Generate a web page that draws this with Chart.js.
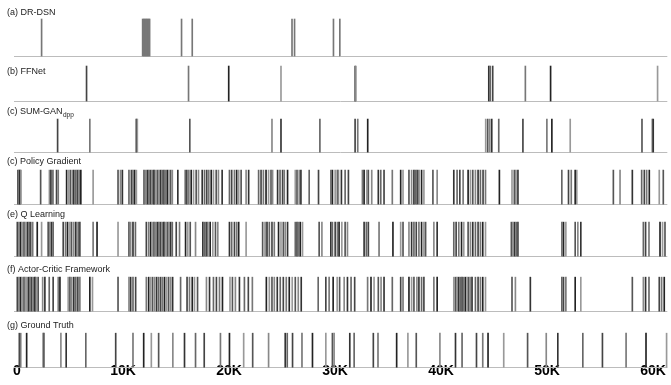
<!DOCTYPE html>
<html>
<head>
<meta charset="utf-8">
<script src="https://cdn.jsdelivr.net/npm/chart.js@4.4.0/dist/chart.umd.min.js"></script>
<style>
    html, body { margin: 0; padding: 0; background: #fff; }
    #wrap { width: 671px; height: 385px; }
</style>
</head>
<body>
<div id="wrap"><canvas id="keyframes" width="671" height="385"></canvas></div>
<script>
// Selected keyframes (frame index) per method.
var rowNames = ['(a) DR-DSN', '(b) FFNet', '(c) SUM-GAN', '(c) Policy Gradient',
    '(e) Q Learning', '(f) Actor-Critic Framework', '(g) Ground Truth'];

var drDsn = [2320, 11850, 11950, 12040, 12140, 12230, 12320, 12420, 12510, 15520, 16530,
    25940, 26180, 29850, 30450];

var ffNet = [6560, 16180, 19970, 24900, 31890, 31960, 44500, 44640, 44870, 47950, 50330, 60420];

var sumGanDpp = [3830, 6870, 11260, 11350, 16300, 24050, 24900, 28570, 31890, 32140, 33080,
    44210, 44400, 44590, 44780, 45440, 47720, 49980, 50450, 52180, 58950, 59920, 60010];

var policyGradient = [90, 190, 280, 380, 2230, 3060, 3200, 3390, 3730, 3890, 4680, 4890, 5050,
    5240, 5360, 5550, 5710, 5860, 6020, 7180, 9530, 9760, 9940, 10560, 10790, 10940, 11100,
    11260, 11980, 12140, 12300, 12450, 12610, 12770, 12920, 13080, 13240, 13390, 13550, 13710,
    13860, 14020, 14180, 14330, 14490, 14650, 15170, 15870, 16020, 16210, 16430, 16650, 16900,
    17120, 17470, 17690, 17900, 18090, 18320, 18530, 18790, 19000, 19350, 20040, 20250, 20510,
    20720, 20910, 21140, 21610, 21850, 22790, 23020, 23240, 23490, 23730, 23960, 24110, 24580,
    24810, 25050, 25210, 25520, 26250, 26410, 26620, 26780, 27560, 28440, 29600, 29750, 30010,
    30220, 30320, 30600, 30950, 31260, 32580, 32740, 32990, 33140, 33460, 34080, 34310, 34620,
    35400, 36190, 36410, 36970, 37220, 37440, 37600, 37750, 37910, 38160, 38380, 39230, 39630,
    41200, 41510, 41770, 42080, 42550, 42770, 42990, 43240, 43490, 43710, 43960, 44190, 45500,
    46690, 46910, 47060, 47250, 51390, 52020, 52280, 52650, 52800, 56250, 56880, 58040, 58920,
    59170, 59390, 59640, 60580, 60960];

var qLearning = [30, 190, 350, 500, 660, 850, 1010, 1160, 1290, 1480, 1910, 2320, 2940, 3100,
    3260, 3410, 4360, 4580, 4770, 4990, 5150, 5360, 5550, 5770, 5930, 7180, 7550, 9530, 10560,
    10720, 10940, 11170, 12200, 12420, 12610, 12770, 12920, 13080, 13240, 13390, 13550, 13710,
    13860, 14020, 14180, 14330, 14490, 14650, 15020, 15330, 15900, 16110, 16340, 16840, 17530,
    17690, 17850, 18000, 18220, 18470, 18720, 18940, 20040, 20250, 20510, 20720, 20910, 21610,
    23170, 23400, 23580, 23800, 24050, 24270, 24670, 24900, 25120, 25300, 25520, 26250, 26410,
    26560, 26720, 26930, 28500, 28760, 29600, 29750, 30010, 30220, 30380, 30640, 30950, 31170,
    32740, 32950, 33140, 34150, 35460, 36190, 36410, 36970, 37220, 37440, 37660, 37910, 38160,
    38380, 38540, 39320, 39630, 41200, 41420, 41670, 41930, 42140, 42550, 42770, 42990, 43240,
    43490, 43710, 43930, 44190, 46630, 46780, 46940, 47100, 47250, 51390, 51550, 51770, 52650,
    52900, 53180, 59080, 59290, 59610, 60650, 60890, 61120];

var actorCritic = [30, 190, 350, 500, 660, 850, 1060, 1220, 1380, 1530, 1690, 1850, 2000, 2420,
    2630, 3040, 3410, 3890, 4050, 4830, 4990, 5170, 5360, 5550, 5740, 5930, 6870, 7120, 9530,
    10560, 10720, 10940, 11190, 12200, 12420, 12610, 12790, 12980, 13170, 13360, 13550, 13730,
    13920, 14110, 14300, 14490, 14680, 15430, 16040, 16270, 16530, 16740, 17030, 17870, 18160,
    18530, 18810, 19100, 19380, 20090, 20320, 20600, 20980, 21450, 21820, 22200, 23520, 23800,
    24050, 24270, 24550, 24830, 25120, 25400, 25680, 25960, 26250, 26530, 26810, 28410, 29130,
    29440, 29820, 30200, 30430, 30860, 31170, 31510, 31850, 33070, 33390, 33680, 34080, 34340,
    34620, 35400, 36190, 36410, 36970, 37220, 37440, 37720, 37910, 38160, 38380, 39320, 39630,
    41200, 41360, 41510, 41670, 41830, 41980, 42140, 42300, 42460, 42610, 42770, 42920, 43240,
    43490, 43710, 43930, 44190, 46690, 47010, 48420, 51390, 51550, 51770, 52650, 53180, 58040,
    59080, 59290, 59610, 60580, 60800, 61050];

var groundTruth = [220, 350, 910, 2450, 2540, 4140, 4640, 6490, 9310, 10940, 11950, 12670,
    13360, 14700, 15800, 16840, 17660, 19190, 20040, 21380, 22230, 23730, 25300, 25490, 25990,
    26880, 27870, 29130, 29750, 29910, 31390, 31800, 33610, 34050, 35810, 36870, 37660, 39890,
    41360, 41980, 43340, 43930, 44430, 45910, 48160, 49920, 51010, 53370, 55220, 57450, 59330,
    61270];

var tickValues = [0, 10000, 20000, 30000, 40000, 50000, 60000];
var tickLabels = ['0', '10K', '20K', '30K', '40K', '50K', '60K'];

// layout of each strip on the reversed y scale: [line top, baseline, label centre]
var rowBands = [[19, 56, 13], [66, 101, 71], [119, 152, 111], [170, 204, 161],
    [222, 256, 214], [277, 311, 269], [333, 367, 325]];

var seriesList = [drDsn, ffNet, sumGanDpp, policyGradient, qLearning, actorCritic, groundTruth];
var shades = ['#444', '#777', '#222', '#999', '#555', '#888', '#333', '#666'];
var FONT = '"Liberation Sans", Arial, sans-serif';

var datasets = seriesList.map(function (values, r) {
    var band = rowBands[r];
    return {
        label: rowNames[r],
        data: values.map(function (v) { return { x: v, y: [band[0], band[1]] }; }),
        backgroundColor: values.map(function (v, i) { return r === 0 ? '#777' : shades[i % shades.length]; }),
        borderWidth: 0,
        barThickness: 1,
        grouped: false,
        clip: false
    };
});

// baselines under every strip + the strip titles
var stripDecor = {
    id: 'stripDecor',
    beforeDatasetsDraw: function (chart) {
        var ctx = chart.ctx, y = chart.scales.y, area = chart.chartArea;
        ctx.save();
        ctx.strokeStyle = '#bcbcbc';
        ctx.lineWidth = 1;
        rowBands.forEach(function (b) {
            var py = Math.round(y.getPixelForValue(b[1])) + 0.5;
            ctx.beginPath();
            ctx.moveTo(area.left + 4, py);
            ctx.lineTo(area.right, py);
            ctx.stroke();
        });
        ctx.fillStyle = '#222';
        ctx.textBaseline = 'middle';
        rowNames.forEach(function (name, i) {
            var py = y.getPixelForValue(rowBands[i][2]);
            ctx.font = '9px ' + FONT;
            ctx.fillText(name, area.left - 3, py);
            if (i === 2) {
                var w = ctx.measureText(name).width;
                ctx.font = '6.5px ' + FONT;
                ctx.fillText('dpp', area.left - 2.5 + w, py + 4);
            }
        });
        ctx.restore();
    }
};

new Chart(document.getElementById('keyframes').getContext('2d'), {
    type: 'bar',
    data: { datasets: datasets },
    plugins: [stripDecor],
    options: {
        responsive: false,
        animation: false,
        layout: { padding: { left: 10, right: 2, top: 0, bottom: 0 } },
        plugins: { legend: { display: false }, tooltip: { enabled: false } },
        scales: {
            x: {
                type: 'linear',
                offset: false,
                min: -660,
                max: 61340,
                grid: { display: false, drawTicks: false, offset: false },
                border: { display: false },
                afterBuildTicks: function (scale) {
                    scale.ticks = tickValues.map(function (v) { return { value: v }; });
                },
                ticks: {
                    padding: 5,
                    color: '#000',
                    autoSkip: false,
                    maxRotation: 0,
                    font: { family: FONT, size: 14, weight: 'bold' },
                    callback: function (v) {
                        var i = tickValues.indexOf(v);
                        return i >= 0 ? tickLabels[i] : '';
                    }
                }
            },
            y: { display: false, reverse: true, min: 0, max: 358 }
        }
    }
});
</script>
</body>
</html>
